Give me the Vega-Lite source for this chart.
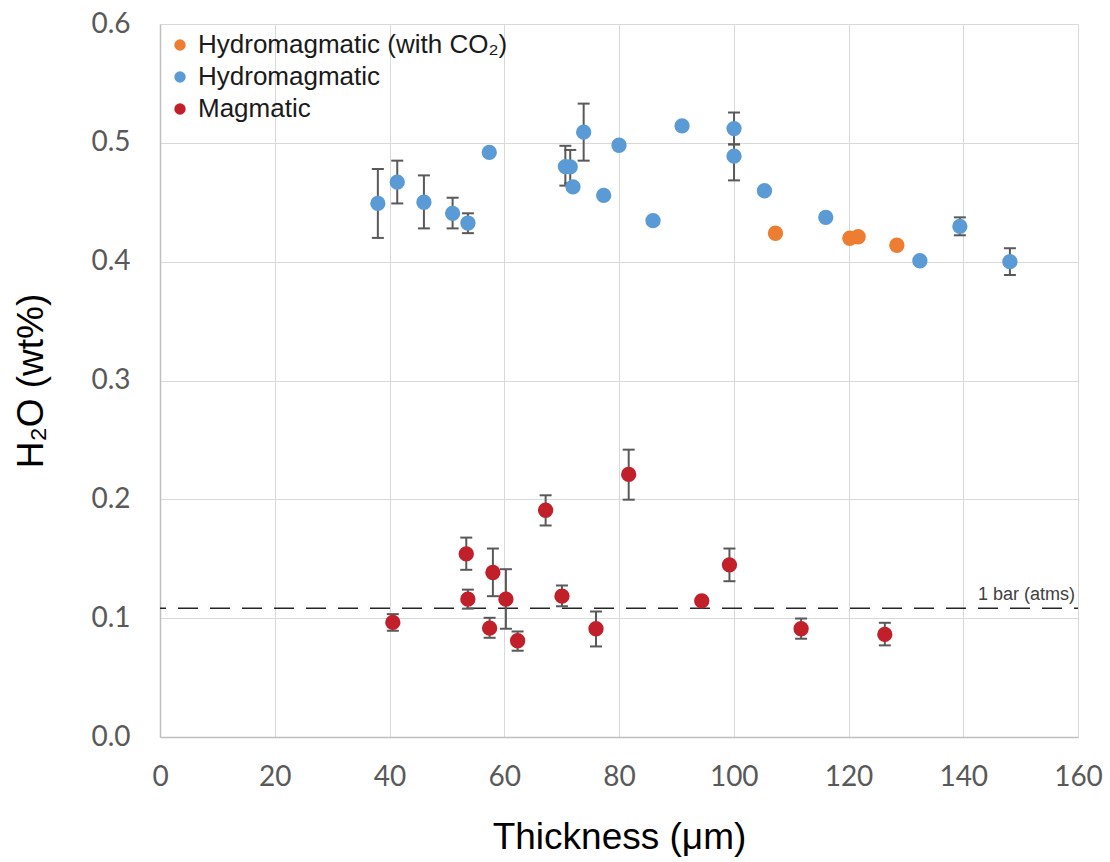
{
  "$schema": "https://vega.github.io/schema/vega-lite/v6.json",
  "width": 918,
  "height": 713,
  "autosize": "none",
  "padding": {"left": 160, "top": 24, "right": 32, "bottom": 125},
  "background": "white",
  "config": {
    "view": {"stroke": null},
    "axis": {
      "grid": true, "gridColor": "#D9D9D9", "gridWidth": 1,
      "domainColor": "#BFBFBF", "domainWidth": 1.5,
      "ticks": false, "tickSize": 0, "labelFlush": false,
      "labelFont": "Lato", "labelFontSize": 28, "labelColor": "#595959",
      "titleFont": "Liberation Sans", "titleFontSize": 37, "titleFontWeight": "normal", "titleColor": "#000000"
    },
    "axisX": {"labelPadding": 26, "titlePadding": 28},
    "axisY": {"labelPadding": 30, "titlePadding": 40}
  },
  "datasets": {
    "pts": [
      {"group": "Hydromagmatic", "thickness": 37.97, "h2o": 0.449, "lo": 0.420, "hi": 0.478},
      {"group": "Hydromagmatic", "thickness": 41.35, "h2o": 0.467, "lo": 0.449, "hi": 0.485},
      {"group": "Hydromagmatic", "thickness": 46.0, "h2o": 0.450, "lo": 0.428, "hi": 0.4726},
      {"group": "Hydromagmatic", "thickness": 51.0, "h2o": 0.4407, "lo": 0.428, "hi": 0.4538},
      {"group": "Hydromagmatic", "thickness": 53.67, "h2o": 0.4325, "lo": 0.424, "hi": 0.4407},
      {"group": "Hydromagmatic", "thickness": 57.39, "h2o": 0.492},
      {"group": "Hydromagmatic", "thickness": 70.65, "h2o": 0.480, "lo": 0.464, "hi": 0.4975},
      {"group": "Hydromagmatic", "thickness": 71.5, "h2o": 0.4798, "lo": 0.466, "hi": 0.494},
      {"group": "Hydromagmatic", "thickness": 71.98, "h2o": 0.463},
      {"group": "Hydromagmatic", "thickness": 73.84, "h2o": 0.509, "lo": 0.485, "hi": 0.533},
      {"group": "Hydromagmatic", "thickness": 77.33, "h2o": 0.4558},
      {"group": "Hydromagmatic", "thickness": 80.0, "h2o": 0.498},
      {"group": "Hydromagmatic", "thickness": 85.93, "h2o": 0.4345},
      {"group": "Hydromagmatic", "thickness": 90.99, "h2o": 0.5143},
      {"group": "Hydromagmatic", "thickness": 100.05, "h2o": 0.512, "lo": 0.4987, "hi": 0.5255},
      {"group": "Hydromagmatic", "thickness": 100.05, "h2o": 0.4888, "lo": 0.4684, "hi": 0.4987},
      {"group": "Hydromagmatic", "thickness": 105.35, "h2o": 0.4597},
      {"group": "Hydromagmatic", "thickness": 116.04, "h2o": 0.4373},
      {"group": "Hydromagmatic", "thickness": 132.44, "h2o": 0.4008},
      {"group": "Hydromagmatic", "thickness": 139.41, "h2o": 0.4297, "lo": 0.4222, "hi": 0.4373},
      {"group": "Hydromagmatic", "thickness": 148.13, "h2o": 0.400, "lo": 0.3888, "hi": 0.4113},
      {"group": "Hydromagmatic (with CO₂)", "thickness": 107.27, "h2o": 0.4239},
      {"group": "Hydromagmatic (with CO₂)", "thickness": 120.23, "h2o": 0.4197},
      {"group": "Hydromagmatic (with CO₂)", "thickness": 121.68, "h2o": 0.421},
      {"group": "Hydromagmatic (with CO₂)", "thickness": 128.43, "h2o": 0.4138},
      {"group": "Magmatic", "thickness": 40.58, "h2o": 0.0964, "lo": 0.0894, "hi": 0.1034},
      {"group": "Magmatic", "thickness": 53.38, "h2o": 0.1541, "lo": 0.1407, "hi": 0.1678},
      {"group": "Magmatic", "thickness": 53.66, "h2o": 0.116, "lo": 0.108, "hi": 0.124},
      {"group": "Magmatic", "thickness": 58.02, "h2o": 0.1384, "lo": 0.1185, "hi": 0.1586},
      {"group": "Magmatic", "thickness": 57.45, "h2o": 0.0916, "lo": 0.0835, "hi": 0.1003},
      {"group": "Magmatic", "thickness": 60.29, "h2o": 0.116, "lo": 0.0911, "hi": 0.1412},
      {"group": "Magmatic", "thickness": 62.33, "h2o": 0.081, "lo": 0.0726, "hi": 0.0888},
      {"group": "Magmatic", "thickness": 67.21, "h2o": 0.1908, "lo": 0.178, "hi": 0.2034},
      {"group": "Magmatic", "thickness": 70.06, "h2o": 0.1185, "lo": 0.110, "hi": 0.1275},
      {"group": "Magmatic", "thickness": 75.99, "h2o": 0.0911, "lo": 0.0762, "hi": 0.1056},
      {"group": "Magmatic", "thickness": 81.69, "h2o": 0.221, "lo": 0.1997, "hi": 0.2418},
      {"group": "Magmatic", "thickness": 94.42, "h2o": 0.1146},
      {"group": "Magmatic", "thickness": 99.25, "h2o": 0.1449, "lo": 0.1311, "hi": 0.1586},
      {"group": "Magmatic", "thickness": 111.74, "h2o": 0.0911, "lo": 0.0827, "hi": 0.0997},
      {"group": "Magmatic", "thickness": 126.33, "h2o": 0.0863, "lo": 0.0771, "hi": 0.0961}
    ],
    "ref": [{"label": "1 bar (atms)", "h2o": 0.1084, "xend": 160}]
  },
  "layer": [
    {
      "data": {"name": "ref"},
      "mark": {"type": "rule", "color": "#262626", "strokeWidth": 1.4, "strokeDash": [20, 12], "strokeDashOffset": 16},
      "encoding": {
        "y": {"field": "h2o", "type": "quantitative", "title": "H₂O (wt%)", "scale": {"domain": [0, 0.6], "nice": false},
              "axis": {"values": [0, 0.1, 0.2, 0.3, 0.4, 0.5, 0.6], "format": ".1f"}}
      }
    },
    {
      "data": {"name": "ref"},
      "mark": {"type": "text", "align": "right", "baseline": "bottom", "dy": -4, "dx": -3, "fontSize": 18, "font": "Liberation Sans", "color": "#404040"},
      "encoding": {
        "x": {"field": "xend", "type": "quantitative", "title": "Thickness (μm)", "scale": {"domain": [0, 160], "nice": false},
              "axis": {"values": [0, 20, 40, 60, 80, 100, 120, 140, 160]}},
        "y": {"field": "h2o", "type": "quantitative", "title": "H₂O (wt%)"},
        "text": {"field": "label"}
      }
    },
    {
      "data": {"name": "pts"},
      "transform": [{"filter": "isValid(datum.lo)"}],
      "mark": {"type": "rule", "color": "#595959", "strokeWidth": 2},
      "encoding": {
        "x": {"field": "thickness", "type": "quantitative", "title": "Thickness (μm)"},
        "y": {"field": "lo", "type": "quantitative", "title": "H₂O (wt%)"},
        "y2": {"field": "hi"}
      }
    },
    {
      "data": {"name": "pts"},
      "transform": [{"filter": "isValid(datum.lo)"}],
      "mark": {"type": "tick", "orient": "horizontal", "color": "#595959", "size": 12, "thickness": 2, "opacity": 1},
      "encoding": {
        "x": {"field": "thickness", "type": "quantitative", "title": "Thickness (μm)"},
        "y": {"field": "lo", "type": "quantitative", "title": "H₂O (wt%)"}
      }
    },
    {
      "data": {"name": "pts"},
      "transform": [{"filter": "isValid(datum.hi)"}],
      "mark": {"type": "tick", "orient": "horizontal", "color": "#595959", "size": 12, "thickness": 2, "opacity": 1},
      "encoding": {
        "x": {"field": "thickness", "type": "quantitative", "title": "Thickness (μm)"},
        "y": {"field": "hi", "type": "quantitative", "title": "H₂O (wt%)"}
      }
    },
    {
      "data": {"name": "pts"},
      "mark": {"type": "point", "shape": "circle", "filled": true, "opacity": 1, "size": 235},
      "encoding": {
        "x": {"field": "thickness", "type": "quantitative", "title": "Thickness (μm)"},
        "y": {"field": "h2o", "type": "quantitative", "title": "H₂O (wt%)"},
        "color": {
          "field": "group", "type": "nominal",
          "scale": {"domain": ["Hydromagmatic (with CO₂)", "Hydromagmatic", "Magmatic"], "range": ["#ED7D31", "#5B9BD5", "#C11F2A"]},
          "legend": {
            "title": null, "orient": "none", "legendX": 7, "legendY": 8, "padding": 0,
            "symbolType": "circle", "symbolSize": 130, "symbolStrokeWidth": 0,
            "labelFont": "Liberation Sans", "labelFontSize": 26, "labelColor": "#1a1a1a",
            "labelOffset": 5, "rowPadding": 6, "labelLimit": 600
          }
        }
      }
    }
  ]
}
